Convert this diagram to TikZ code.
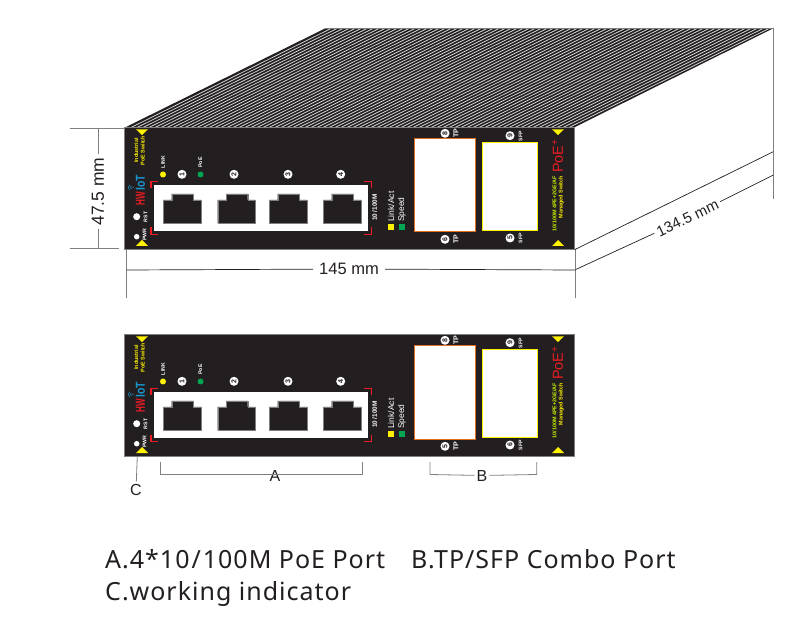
\documentclass[tikz,border=0pt]{standalone}
\usepackage{fontspec}
\setmainfont{Liberation Sans}
\newfontfamily\capfont[LetterSpace=4]{Noto Sans}
\definecolor{panelblack}{HTML}{231F20}
\definecolor{markyellow}{HTML}{FFF200}
\definecolor{markred}{HTML}{ED1C24}
\definecolor{markgreen}{HTML}{00A651}
\definecolor{markblue}{HTML}{1B95D0}
\definecolor{tporange}{HTML}{E36F1E}
\definecolor{dimgray}{HTML}{7F7F7F}
\tikzset{
  dimline/.style={dimgray, line width=.8},
  blackline/.style={panelblack, line width=.7},
  dimtext/.style={inner sep=3, text=panelblack, font=\fontsize{15}{15}\selectfont},
  tinytext/.style={rotate=90, inner sep=0, text=white, font=\fontsize{5.2}{5.2}\selectfont\bfseries},
  smalltext/.style={rotate=90, inner sep=0, text=white, font=\fontsize{7}{7}\selectfont\bfseries},
  yelltext/.style={rotate=90, inner sep=0, text=markyellow, align=center, font=\fontsize{5.4}{6.6}\selectfont\bfseries},
  portnum/.style={circle, fill=white, text=panelblack, inner sep=0, minimum size=9, rotate=90, font=\fontsize{7}{7}\selectfont\bfseries},
  led/.style={circle, inner sep=0, minimum size=#1, fill=white},
  captext/.style={anchor=base west, inner sep=0, text=panelblack, font=\fontsize{25}{25}\capfont},
}
% shift, digits of TP top/bottom, SFP top/bottom
\newcommand{\switchpanel}[5]{
  \begin{scope}[shift={(0,#1)}, name prefix=p#1-]
    \fill[panelblack] (124,127.5) rectangle (574,249.5);
    \draw[dimgray, line width=.5] (124,249.5) -- (124,127.5) -- (574,127.5) -- (574,249.5) -- cycle;
    % corner marks
    \fill[markyellow] (136,129.3) -- (148,129.3) -- (142,135) -- cycle;
    \fill[markyellow] (136,246) -- (148,246) -- (142,240) -- cycle;
    \fill[markyellow] (552,129.3) -- (564,129.3) -- (558,135) -- cycle;
    \fill[markyellow] (552,246) -- (564,246) -- (558,240) -- cycle;
    \node[yelltext] (brand) at (139.5,150.5) {Industrial\\PoE Switch};
    % logo
    \node[rotate=90, xscale=.62, inner sep=0, text=markred, font=\fontsize{13}{13}\selectfont\bfseries] (hw) at (140.5,198.5) {HW};
    \node[rotate=90, xscale=.8, inner sep=0, text=markblue, font=\fontsize{13}{13}\selectfont\bfseries] (iot) at (140.5,182.5) {IoT};
    \draw[markblue, line width=.6] (129.5,185) to[bend right=45] (129.5,190);
    \draw[markblue, line width=.6] (131.3,186) to[bend right=45] (131.3,189);
    \fill[markblue] (133,187.5) circle (.7);
    % indicators
    \node[led=7] (rst) at (136.7,216.7) {};
    \node[tinytext] (rsttext) at (145.5,217) {RST};
    \node[led=5.5] (pwr) at (136.7,236.7) {};
    \node[tinytext] (pwrtext) at (144.5,234.5) {PWR};
    \node[tinytext] (linktext) at (163,162) {LINK};
    \node[led=6, fill=markyellow] (linkled) at (163,174.5) {};
    \node[tinytext] (poetext) at (200.3,162.5) {PoE};
    \node[led=6, fill=markgreen] (poeled) at (200.5,174.5) {};
    % RJ45 block
    \fill[white] (154,185) rectangle (368,231);
    \foreach \n/\x in {1/182,2/234,3/288,4/340.7}
      \node[portnum] (num\n) at (\x,174.3) {\n};
    \foreach \x in {163.3,217.7,269.3,323.3}
      \filldraw[fill=panelblack, draw=dimgray, line width=.3] (\x,200) -- ++(8.4,0) -- ++(0,-6) -- ++(21.6,0) -- ++(0,6) -- ++(7.7,0) -- ++(0,23.3) -- ++(-37.7,0) -- cycle;
    \draw[markred, line width=1.3] (158.3,181.8) -- (151,181.8) -- (151,188);
    \draw[markred, line width=1.3] (151,227.5) -- (151,234.5) -- (158.3,234.5);
    \draw[markred, line width=1.3] (364,181.8) -- (371.5,181.8) -- (371.5,188);
    \draw[markred, line width=1.3] (371.5,227.5) -- (371.5,234.5) -- (364,234.5);
    \node[rotate=90, inner sep=0, text=white, font=\fontsize{6.4}{6.4}\selectfont\bfseries] (speedtext) at (374.5,207.5) {10\kern1pt/\kern.5pt100M};
    % legend
    \node[rotate=90, anchor=west, inner sep=0, text=white, font=\fontsize{8.5}{8.5}\selectfont] (linkact) at (391,222) {Link/Act};
    \node[rotate=90, anchor=west, inner sep=0, text=white, font=\fontsize{8.4}{8.4}\selectfont] (speed) at (402,222) {Speed};
    \fill[markyellow] (388,224) rectangle (394,230);
    \fill[markgreen] (399.3,224) rectangle (405.3,230);
    % combo ports
    \filldraw[fill=white, draw=tporange, line width=1] (414.5,138.5) rectangle (475,232);
    \filldraw[fill=white, draw=markyellow, line width=1] (482.8,142.8) rectangle (537.5,230.5);
    \node[portnum] (tptop) at (445,133.3) {#2};
    \node[smalltext] (tptoptext) at (456,133.3) {TP};
    \node[portnum] (tpbot) at (445,239.3) {#3};
    \node[smalltext] (tpbottext) at (456,239.3) {TP};
    \node[portnum] (sfptop) at (510,135.7) {#4};
    \node[tinytext] (sfptoptext) at (520.5,136) {SFP};
    \node[portnum] (sfpbot) at (510,238) {#5};
    \node[tinytext] (sfpbottext) at (520.5,238) {SFP};
    % right side text
    \node[rotate=90, inner sep=0, text=markred, font=\fontsize{14.5}{14.5}\selectfont] (poelogo) at (557.5,156) {PoE\textsuperscript{+}};
    \node[yelltext, anchor=west, text=markyellow!80!green] (model) at (554.5,231.5) {10/100M 4PE+2GE/AF};
    \node[yelltext, anchor=west] (managed) at (561.2,218.5) {Managed Switch};
  \end{scope}
}
\begin{document}
\begin{tikzpicture}[x=1pt, y=-1pt]
  \useasboundingbox (0,0) rectangle (801,636);
  % top face with fins
  \fill[panelblack] (125,127.5) -- (325,28.5) -- (773,28.5) -- (574,127.5) -- cycle;
  \begin{scope}
    \clip (125,127.5) -- (325,28.5) -- (773,28.5) -- (574,127.5) -- cycle;
    \foreach \x in {1,...,74}
      \draw[white!85!black, line width=.75] (125+\x*6,127.5) -- ++(200,-99);
  \end{scope}
  \draw[dimline] (325,28.5) -- (773,28.5);

  \switchpanel{0}{8}{6}{9}{5}
  \switchpanel{207}{8}{5}{9}{6}

  % height
  \coordinate (hl1) at (70,128);
  \coordinate (hr1) at (124,128);
  \coordinate (hl2) at (70,248.8);
  \coordinate (hr2) at (119,248.8);
  \coordinate (ht) at (98,128);
  \coordinate (hb) at (98,248.8);
  \draw[dimline] (hl1) -- (hr1);
  \draw[dimline] (hl2) -- (hr2);
  \node[dimtext, rotate=90, font=\fontsize{17.5}{17.5}\selectfont] (height) at (98,191.5) {47.5 mm};
  \draw[dimline] (ht) -- (height);
  \draw[dimline] (height) -- (hb);

  % width
  \coordinate (wl0) at (126.7,249.5);
  \coordinate (wl1) at (126.7,298);
  \coordinate (wr0) at (575.3,249.5);
  \coordinate (wr1) at (575.3,298);
  \coordinate (wl) at (126.7,270);
  \coordinate (wr) at (575.3,270);
  \draw[dimline] (wl0) -- (wl1);
  \draw[dimline] (wr0) -- (wr1);
  \node[dimtext, inner sep=6, font=\fontsize{16.5}{16.5}\selectfont] (width) at (349,269) {145 mm};
  \draw[blackline] (wl) -- (width);
  \draw[blackline] (width) -- (wr);

  % depth
  \coordinate (dt) at (773.3,28.5);
  \coordinate (db) at (773.3,199);
  \coordinate (d1a) at (575,249.5);
  \coordinate (d1b) at (773.3,151.7);
  \coordinate (d2a) at (575.7,269.5);
  \coordinate (d2b) at (773.3,175);
  \draw[dimline] (dt) -- (db);
  \draw[blackline] (d1a) -- (d1b);
  \node[dimtext, rotate=25.5, inner sep=3] (depth) at (687.5,218) {134.5 mm};
  \draw[blackline] (d2a) -- (depth);
  \draw[blackline] (depth) -- (d2b);

  % callouts
  \coordinate (a1) at (160.3,462);
  \coordinate (a2) at (160.3,474.5);
  \coordinate (a3) at (362.7,474.5);
  \coordinate (a4) at (362.7,462);
  \node[inner sep=0, text=panelblack, font=\fontsize{16}{16}\selectfont] (labelA) at (275,475.5) {A};
  \draw[dimline] (a1) -- (a2) -- (a3) -- (a4);
  \coordinate (b1) at (430,462);
  \coordinate (b2) at (430,474.5);
  \coordinate (b3) at (536.7,474.5);
  \coordinate (b4) at (536.7,462);
  \node[inner sep=2, text=panelblack, font=\fontsize{16}{16}\selectfont] (labelB) at (482,475.5) {B};
  \draw[dimline] (b1) -- (b2) -- (labelB);
  \draw[dimline] (labelB) -- (b3) -- (b4);
  \coordinate (c1) at (137.3,456.5);
  \node[inner sep=2, text=panelblack, font=\fontsize{16}{16}\selectfont] (labelC) at (136,489.5) {C};
  \draw[dimline] (c1) -- (labelC);

  % captions
  \node[captext] (capA) at (105,568.5) {A.4*10\kern2pt/\kern2pt100M PoE Port};
  \node[captext] (capB) at (411,568.5) {B.TP/SFP Combo Port};
  \node[captext] (capC) at (105,600) {C.working indicator};
\end{tikzpicture}
\end{document}
